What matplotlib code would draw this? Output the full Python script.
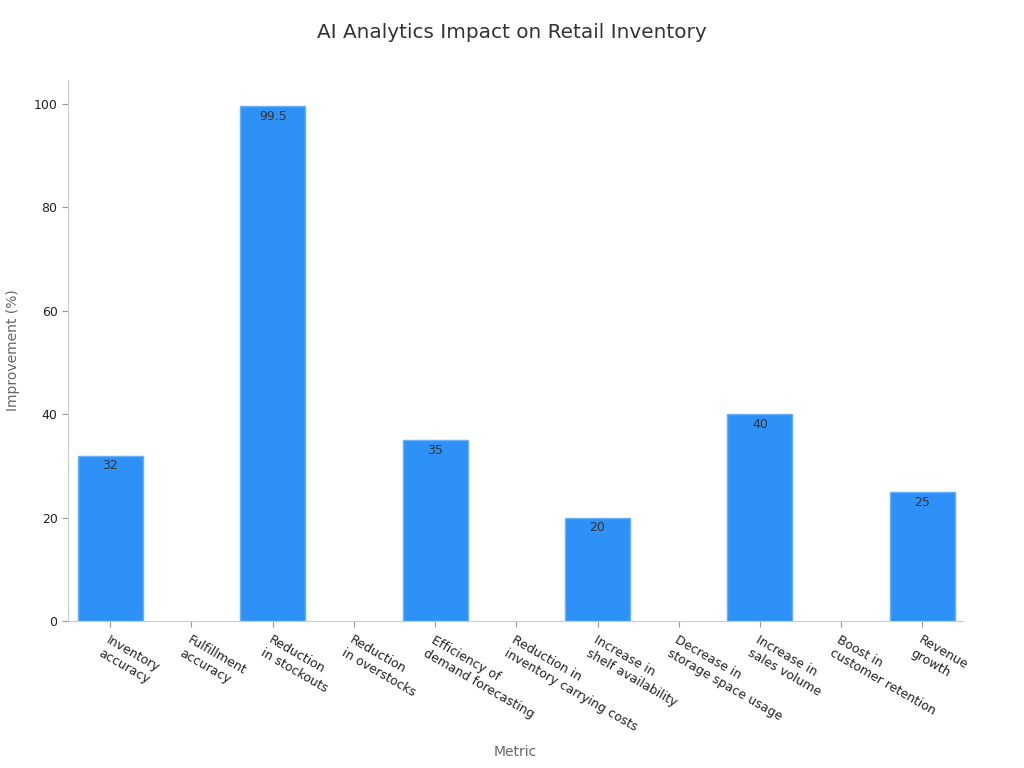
import numpy as np
import matplotlib
matplotlib.use('Agg')
import matplotlib.pyplot as plt

## Data
metrics = ['Inventory\naccuracy', 'Fulfillment\naccuracy', 'Reduction\nin stockouts',
           'Reduction\nin overstocks', 'Efficiency of\ndemand forecasting',
           'Reduction in\ninventory carrying costs', 'Increase in\nshelf availability',
           'Decrease in\nstorage space usage', 'Increase in\nsales volume',
           'Boost in\ncustomer retention', 'Revenue\ngrowth']
improvement = [32, np.nan, 99.5, np.nan, 35, np.nan, 20, np.nan, 40, np.nan, 25]

fig = plt.figure(figsize=(10.24, 7.68), dpi=100)
ax = fig.add_axes([0.0664, 0.191, 0.8740, 0.705])

x = np.arange(len(metrics))
bars = ax.bar(x, improvement, width=0.8, color='#2d91f7', edgecolor='#6ab0f9', linewidth=1)

for xi, v in zip(x, improvement):
    if not np.isnan(v):
        ax.text(xi, v - 0.7, f'{v:g}', ha='center', va='top', fontsize=9, color='#333333')

ax.set_xlim(-0.52, 10.5)
ax.set_ylim(0, 104.6)
ax.set_xticks(x)
ax.set_xticklabels(metrics, rotation=-30, ha='left', rotation_mode='anchor',
                   fontsize=9, color='#222222', multialignment='left')
ax.set_yticks([0, 20, 40, 60, 80, 100])
ax.tick_params(axis='y', labelsize=9, colors='#222222', length=4, color='#999999')
ax.tick_params(axis='x', length=4, color='#999999', pad=5)

for s in ['top', 'right']:
    ax.spines[s].set_visible(False)
for s in ['left', 'bottom']:
    ax.spines[s].set_color('#cccccc')

ax.set_xlabel('Metric', fontsize=10, color='#666666', labelpad=8)
ax.set_ylabel('Improvement (%)', fontsize=10, color='#666666', labelpad=10)
fig.suptitle('AI Analytics Impact on Retail Inventory', fontsize=14.4, color='#333333', y=0.97)

plt.savefig('out.png', dpi=100)
